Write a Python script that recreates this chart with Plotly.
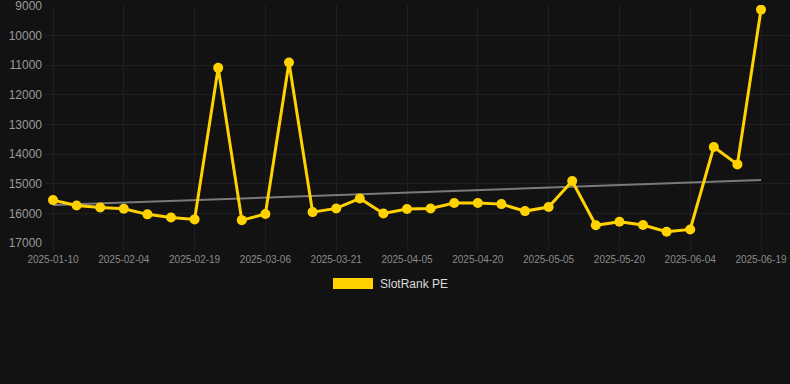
import plotly.graph_objects as go

# ---- data ----
dates = [
    "2025-01-10", "2025-01-25", "2025-01-30", "2025-02-04", "2025-02-09", "2025-02-14",
    "2025-02-19", "2025-02-24", "2025-03-01", "2025-03-06", "2025-03-11", "2025-03-16",
    "2025-03-21", "2025-03-26", "2025-03-31", "2025-04-05", "2025-04-10", "2025-04-15",
    "2025-04-20", "2025-04-25", "2025-04-30", "2025-05-05", "2025-05-10", "2025-05-15",
    "2025-05-20", "2025-05-25", "2025-05-30", "2025-06-04", "2025-06-09", "2025-06-14",
    "2025-06-19",
]
slotrank_pe = [
    15550, 15730, 15800, 15840, 16030, 16135, 16200, 11090, 16225, 16020, 10910,
    15955, 15830, 15495, 16000, 15850, 15830, 15650, 15650, 15685, 15920, 15785,
    14905, 16400, 16280, 16390, 16615, 16540, 13760, 14345, 9125,
]
trend_dates = [dates[0], dates[-1]]
trend_values = [15717, 14873]
tick_labels = dates[::3]
y_ticks = [9000, 10000, 11000, 12000, 13000, 14000, 15000, 16000, 17000]
series_name = "SlotRank PE"

YELLOW = "#FFD200"
BG = "#121212"
GRID = "#1f1f1f"
FONT = "Arial, 'Liberation Sans', sans-serif"

fig = go.Figure()
fig.add_trace(go.Scatter(
    x=trend_dates, y=trend_values, mode="lines",
    line=dict(color="#7a7a7a", width=2), showlegend=False, hoverinfo="skip",
))
fig.add_trace(go.Scatter(
    x=dates, y=slotrank_pe, mode="lines+markers", name=series_name,
    line=dict(color=YELLOW, width=3),
    marker=dict(color=YELLOW, size=10),
    showlegend=False,
))

# plot area (pixels): x 45..790, y 5..244 ; value 9000 sits at y=6, 17000 at y=243
L, R, T, B = 45, 790, 5, 244
W, H = 790, 384
px_x = lambda px: (px - L) / (R - L)
px_y = lambda py: (B - py) / (B - T)

fig.add_shape(type="rect", xref="paper", yref="paper",
              x0=px_x(333), x1=px_x(373), y0=px_y(289), y1=px_y(278),
              fillcolor=YELLOW, line=dict(width=0))
fig.add_annotation(xref="paper", yref="paper", x=px_x(378), y=px_y(284),
                   xanchor="left", yanchor="middle", showarrow=False,
                   text=series_name, font=dict(family=FONT, size=12, color="#dcdcdc"))

step = (761 - 53) / 30.0
fig.update_layout(
    width=W, height=H,
    margin=dict(l=L, r=W - R, t=T, b=H - B),
    paper_bgcolor=BG, plot_bgcolor=BG,
    font=dict(family=FONT, color="#8a8a8a"),
    xaxis=dict(
        type="category", categoryorder="array", categoryarray=dates,
        range=[-(53 - L) / step, 30 + (R - 761) / step],
        tickmode="array", tickvals=tick_labels, ticktext=tick_labels,
        tickfont=dict(size=10, color="#8a8a8a"),
        showgrid=True, gridcolor=GRID, gridwidth=1,
        ticks="outside", ticklen=6, tickcolor=GRID,
        zeroline=False, showline=False, ticklabeloverflow="allow",
    ),
    yaxis=dict(
        range=[17030, 8970], tickvals=y_ticks, tickformat="d",
        tickfont=dict(size=12, color="#9a9a9a"),
        showgrid=True, gridcolor=GRID, gridwidth=1,
        zeroline=False, showline=False, ticks="", ticklabelstandoff=2,
        ticklabeloverflow="allow",
    ),
)

fig.write_html(
    "out.html",
    config={"displayModeBar": False},
    post_script="document.body.style.margin='0';document.body.style.background='#121212';",
)
